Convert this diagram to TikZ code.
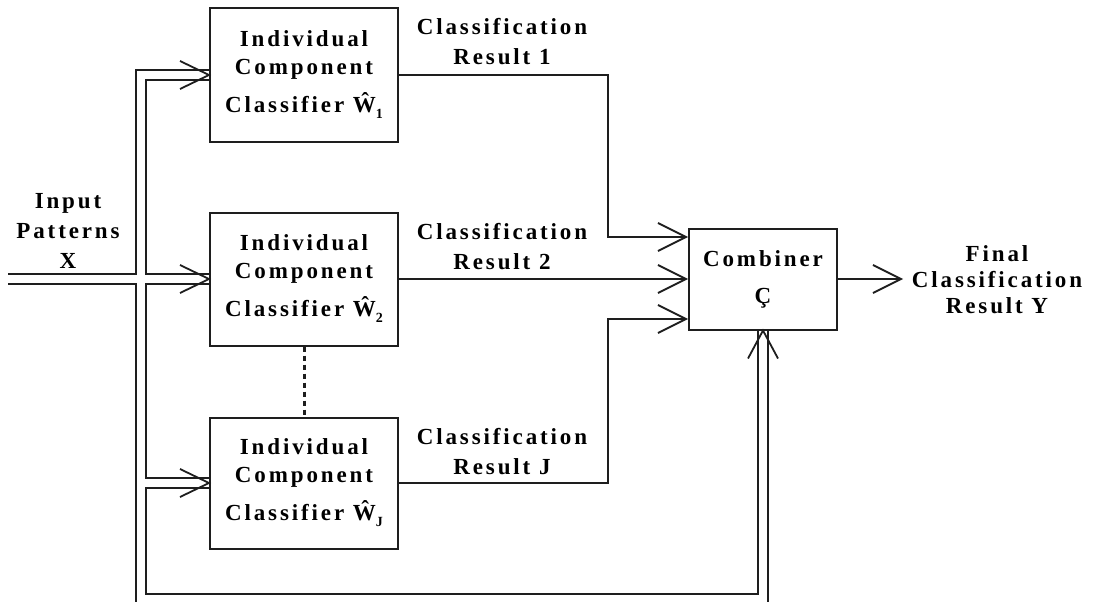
\documentclass[tikz,border=0pt]{standalone}
\usepackage{fontspec}
\setmainfont{Liberation Serif}[LetterSpace=12.5]
\usetikzlibrary{arrows.meta,calc}

\definecolor{ink}{HTML}{1E1E1E}

% lowered index after the estimated weight symbol
\newcommand{\wsub}[1]{\raisebox{-6pt}{\fontsize{14}{14}\selectfont #1}}

\tikzset{
  wire/.style={draw=ink, line width=1.8pt},
  arr/.style={wire, -{Straight Barb[length=28pt,width=28pt]}},
  vtip/.style={draw=ink, line width=1.8pt},
  stage/.style={draw=ink, line width=2pt, rectangle, inner sep=0pt,
    minimum width=188pt, align=center,
    font=\fontsize{23}{28}\selectfont\bfseries},
  lbl/.style={inner sep=0pt, align=center, anchor=north,
    font=\fontsize{23}{30}\selectfont\bfseries},
}

\begin{document}
\begin{tikzpicture}[x=1pt,y=-1pt]
\useasboundingbox (0,0) rectangle (1093,602);
\clip (0,0) rectangle (1093,602);

% component classifiers and combiner
\node[stage, minimum height=133pt] (box1) at (304,75)
  {Individual\\Component\\[10pt]Classifier Ŵ\wsub{1}};
\node[stage, minimum height=133pt] (box2) at (304,279)
  {Individual\\Component\\[10pt]Classifier Ŵ\wsub{2}};
\node[stage, minimum height=131pt] (boxJ) at (304,483)
  {Individual\\Component\\[10pt]Classifier Ŵ\wsub{J}};
\node[stage, minimum width=148pt, minimum height=101pt] (comb) at (763,279)
  {Combiner\\[9pt]Ç};

% labels
\node[lbl] (lin) at (68,193) {Input\\Patterns\\X};
\node[lbl] (lr1) at (502,18) {Classification\\Result 1};
\node[lbl] (lr2) at (502,223) {Classification\\Result 2};
\node[lbl] (lrJ) at (502,428) {Classification\\Result J};
\node[lbl, font=\fontsize{23}{26}\selectfont\bfseries] (lfin) at (997,245)
  {Final\\Classification\\Result Y};

% classifier outputs into the combiner
\coordinate (bend) at (608,0);
\draw[arr] (box1.east) -| (bend |- comb.north) |- ($(comb.west)+(0,-42)$);
\draw[arr] (box2.east) -- (comb.west);
\draw[arr] (boxJ.east) -| (bend |- comb.south) |- ($(comb.west)+(0,40)$);
\coordinate (yout) at (903,279);
\draw[arr] (comb.east) -- (yout);

% omitted classifiers
\draw[draw=ink, line width=3pt, dash pattern=on 5pt off 4pt] (box2.south) -- (boxJ.north);

% double-line input bus
\coordinate (xo) at (136,0);
\coordinate (xi) at (146,0);
\coordinate (inU) at (8,274);
\coordinate (inL) at (8,284);
\coordinate (floorO) at (0,612);
\coordinate (floorI) at (0,594);
\coordinate (b1U) at ($(box1.west)+(0,-5)$);
\coordinate (b1L) at ($(box1.west)+(0,5)$);
\coordinate (b2U) at ($(box2.west)+(0,-5)$);
\coordinate (b2L) at ($(box2.west)+(0,5)$);
\coordinate (bJU) at ($(boxJ.west)+(0,-5)$);
\coordinate (bJL) at ($(boxJ.west)+(0,5)$);
\coordinate (cL) at ($(comb.south)+(-5,0)$);
\coordinate (cR) at ($(comb.south)+(5,0)$);

\draw[wire] (b1U) -| (xo |- inU) -- (inU);
\draw[wire] (b1L) -| (xi |- b2U) -- (b2U);
\draw[wire] (inL) -| (xo |- floorO) -| (cR);
\draw[wire] (b2L) -| (xi |- bJU) -- (bJU);
\draw[wire] (bJL) -| (xi |- floorI) -| (cL);

% open arrowheads on the bus ends
\draw[vtip] ($(box1.west)+(-29,-14)$) -- (box1.west) -- ($(box1.west)+(-29,14)$);
\draw[vtip] ($(box2.west)+(-29,-14)$) -- (box2.west) -- ($(box2.west)+(-29,14)$);
\draw[vtip] ($(boxJ.west)+(-29,-14)$) -- (boxJ.west) -- ($(boxJ.west)+(-29,14)$);
\draw[vtip] ($(comb.south)+(-15,28)$) -- (comb.south) -- ($(comb.south)+(15,28)$);
\end{tikzpicture}
\end{document}
